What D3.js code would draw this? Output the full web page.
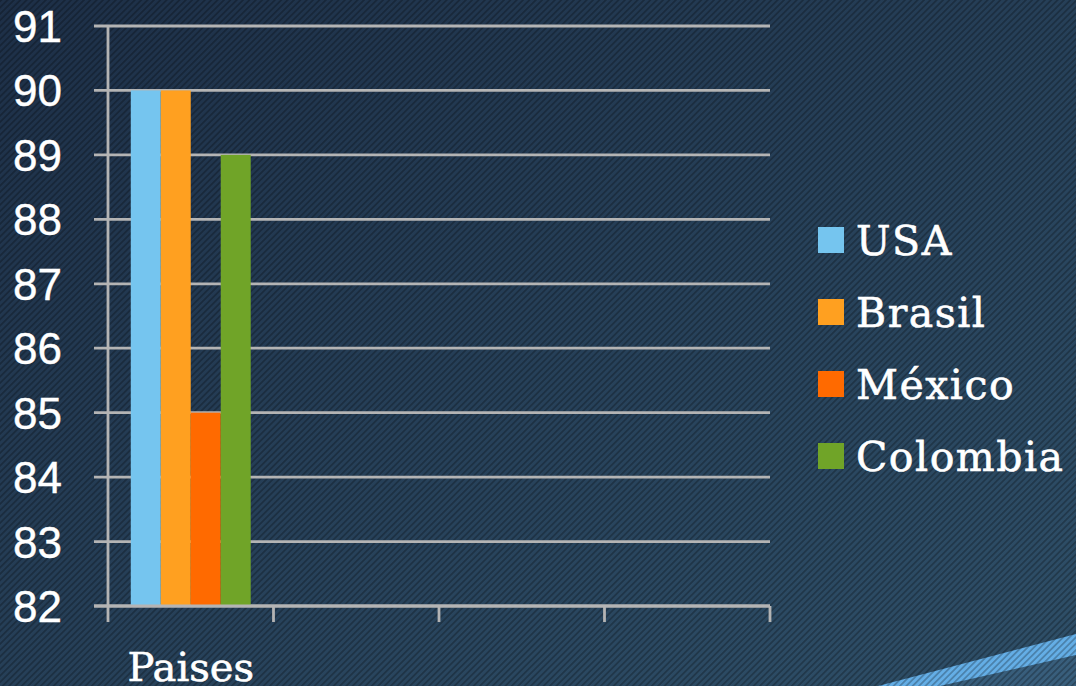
<!DOCTYPE html>
<html>
<head>
<meta charset="utf-8">
<script src="https://cdn.jsdelivr.net/npm/d3@7"></script>
<style>
  html, body { margin: 0; padding: 0; background: #24394f; }
  svg { display: block; }
</style>
</head>
<body>
<svg id="chart" width="1076" height="686"></svg>
<script>
// chart values
var categories = ["Paises", "", "", ""];
var seriesNames = ["USA", "Brasil", "México", "Colombia"];
var seriesColors = ["#75c5ef", "#ffa020", "#ff6a00", "#70a428"];
var usaValues = [90];
var brasilValues = [90];
var mexicoValues = [85];
var colombiaValues = [89];
var yTicks = [82, 83, 84, 85, 86, 87, 88, 89, 90, 91];

var seriesValues = [usaValues, brasilValues, mexicoValues, colombiaValues];

var width = 1076, height = 686;
var svg = d3.select("#chart");
var defs = svg.append("defs");

// background gradient + diagonal stripes
var grad = defs.append("linearGradient").attr("id", "bg")
  .attr("x1", "0%").attr("y1", "0%").attr("x2", "100%").attr("y2", "100%");
grad.append("stop").attr("offset", "0%").attr("stop-color", "#1d2f47");
grad.append("stop").attr("offset", "100%").attr("stop-color", "#2f5069");

var stripes = defs.append("pattern").attr("id", "stripes")
  .attr("patternUnits", "userSpaceOnUse")
  .attr("width", 4.5).attr("height", 4.5)
  .attr("patternTransform", "rotate(45)");
stripes.append("rect").attr("width", 1.8).attr("height", 4.5)
  .attr("fill", "#000").attr("fill-opacity", 0.25);

svg.append("rect").attr("width", width).attr("height", height).attr("fill", "url(#bg)");

// light band bottom-right
svg.append("path")
  .attr("d", "M1076,655 L1076,686 L940,686 Z")
  .attr("fill", "#3d6584").attr("fill-opacity", 0.7);
svg.append("path")
  .attr("d", "M878,686 L1076,634 L1076,655 L940,686 Z")
  .attr("fill", "#64aee6");

svg.append("rect").attr("width", width).attr("height", height).attr("fill", "url(#stripes)");

// scales
var plotLeft = 108, plotRight = 770, plotTop = 26, plotBottom = 606;

var x0 = d3.scaleBand()
  .domain(d3.range(categories.length))
  .range([plotLeft, plotRight])
  .padding(0);

var x1 = d3.scaleBand()
  .domain(seriesNames)
  .range([0, x0.bandwidth()])
  .paddingInner(0)
  .paddingOuter(0.76);

var y = d3.scaleLinear().domain([82, 91]).range([plotBottom, plotTop]);

var gridColor = "#b4b4b4";
var gridWidth = 2.8;

// gridlines (extend left as tick marks)
svg.append("g").selectAll("line").data(yTicks).join("line")
  .attr("x1", plotLeft - 14).attr("x2", plotRight)
  .attr("y1", function(d) { return y(d); })
  .attr("y2", function(d) { return y(d); })
  .attr("stroke", gridColor).attr("stroke-width", gridWidth);

// vertical axis line
svg.append("line")
  .attr("x1", plotLeft).attr("x2", plotLeft)
  .attr("y1", plotTop).attr("y2", plotBottom + 16)
  .attr("stroke", gridColor).attr("stroke-width", gridWidth);

// x tick marks at band boundaries
var xBoundaries = d3.range(categories.length).map(function(i) { return x0(i); }).concat([plotRight]);
svg.append("g").selectAll("line").data(xBoundaries.slice(1)).join("line")
  .attr("x1", function(d) { return d; }).attr("x2", function(d) { return d; })
  .attr("y1", plotBottom).attr("y2", plotBottom + 16)
  .attr("stroke", gridColor).attr("stroke-width", gridWidth);

// y labels
svg.append("g").selectAll("text").data(yTicks).join("text")
  .attr("x", 62)
  .attr("y", function(d) { return y(d) + 16; })
  .attr("text-anchor", "end")
  .attr("font-family", "Liberation Sans, Arial, sans-serif")
  .attr("font-size", 44)
  .attr("fill", "#ffffff")
  .attr("stroke", "#ffffff").attr("stroke-width", 0.4)
  .text(function(d) { return d; });

// bars
categories.forEach(function(cat, ci) {
  seriesNames.forEach(function(name, si) {
    var v = seriesValues[si][ci];
    if (v === undefined) return;
    svg.append("rect")
      .attr("x", x0(ci) + x1(name))
      .attr("y", y(v))
      .attr("width", x1.bandwidth())
      .attr("height", y(82) - y(v))
      .attr("fill", seriesColors[si]);
  });
});

// redraw the baseline over bars
svg.append("line")
  .attr("x1", plotLeft - 14).attr("x2", plotRight)
  .attr("y1", plotBottom).attr("y2", plotBottom)
  .attr("stroke", gridColor).attr("stroke-width", gridWidth);

// category labels
svg.append("g").selectAll("text").data(categories).join("text")
  .attr("x", function(d, i) { return x0(i) + x0.bandwidth() / 2; })
  .attr("y", 681)
  .attr("text-anchor", "middle")
  .attr("font-family", "DejaVu Serif, serif")
  .attr("font-size", 40)
  .attr("fill", "#ffffff")
  .attr("stroke", "#ffffff").attr("stroke-width", 0.6)
  .text(function(d) { return d; });

// legend
var legend = svg.append("g").attr("transform", "translate(818,227)");
var items = legend.selectAll("g").data(seriesNames).join("g")
  .attr("transform", function(d, i) { return "translate(0," + (i * 72) + ")"; });
items.append("rect").attr("width", 26).attr("height", 26)
  .attr("fill", function(d, i) { return seriesColors[i]; });
items.append("text").attr("x", 38).attr("y", 28)
  .attr("font-family", "DejaVu Serif, serif")
  .attr("font-size", 41)
  .attr("letter-spacing", 1.5)
  .attr("fill", "#ffffff")
  .attr("stroke", "#ffffff").attr("stroke-width", 0.6)
  .text(function(d) { return d; });
</script>
</body>
</html>
